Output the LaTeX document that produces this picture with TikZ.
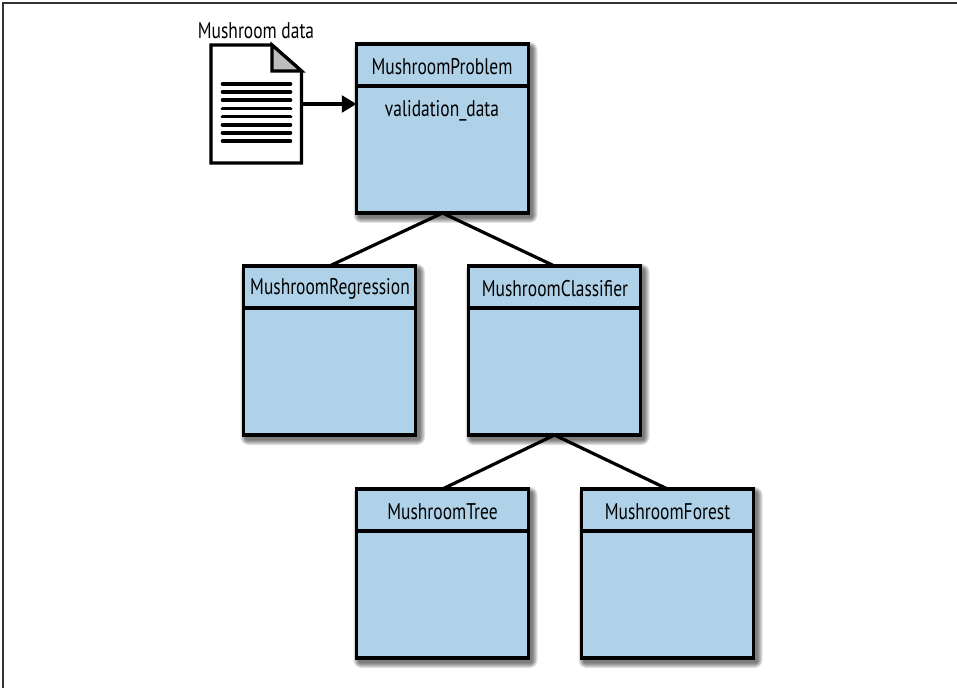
\documentclass[tikz,border=0pt]{standalone}
\usepackage{fontspec}
\setmainfont[FakeStretch=0.77]{PT Sans}
\usetikzlibrary{arrows.meta}
\definecolor{boxblue}{HTML}{B0D2E8}
\definecolor{foldgray}{HTML}{BEBEBE}
\tikzset{
  x=0.75pt,y=-0.75pt,
  classbox/.style={draw=black,line width=2.4pt,fill=boxblue,rectangle,minimum width=129pt,minimum height=126.75pt,inner sep=0pt,outer sep=0pt},
  title/.style={font=\fontsize{17pt}{19pt}\selectfont,text=black,inner sep=0pt},
  link/.style={draw=black,line width=2.4pt},
  docline/.style={draw=black,line width=2.7pt,line cap=round}
}
\newcommand{\softshadow}[4]{%
  \foreach \g in {6,5,4,3,2,1}{
    \fill[black,opacity=0.11,rounded corners=\g pt] (#1-\g+3,#2-\g+4) rectangle (#3+\g+3,#4+\g+4);
  }%
}
\begin{document}
\begin{tikzpicture}
\useasboundingbox (0,0) rectangle (957,688);
\fill[white] (0,0) rectangle (957,688);
\draw[line width=1.1pt,draw=black!80] (3,688) -- (3,3) -- (957,3);

% shadows
\softshadow{356.5}{44}{528.5}{213}
\softshadow{243.5}{266}{416}{435}
\softshadow{468.5}{266}{640.5}{435}
\softshadow{356.5}{489}{528.5}{658}
\softshadow{581.5}{489}{753.5}{658}

% class boxes
\node[classbox,anchor=north west] (problem) at (356.5,44) {};
\node[classbox,anchor=north west] (regression) at (243.5,266) {};
\node[classbox,anchor=north west] (classifier) at (468.5,266) {};
\node[classbox,anchor=north west] (tree) at (356.5,489) {};
\node[classbox,anchor=north west] (forest) at (581.5,489) {};

\foreach \b in {problem,regression,classifier,tree,forest}{
  \draw[link] ([yshift=-31.5pt]\b.north west) -- ([yshift=-31.5pt]\b.north east);
}

\node[title] (t1) at (442,67) {MushroomProblem};
\node[title] (t1b) at (442,111) {validation\_data};
\node[title] (t2) at (330,289) {MushroomRegression};
\node[title] (t3) at (555,289) {MushroomClassifier};
\node[title] (t4) at (442.5,512) {MushroomTree};
\node[title] (t5) at (667.5,512) {MushroomForest};

% connectors
\draw[link] (regression.north) -- (problem.south) -- (classifier.north);
\draw[link] (tree.north) -- (classifier.south) -- (forest.north);

% document
\draw[line width=2.4pt,fill=white,line join=miter] (211,45) -- (272,45) -- (301.5,71) -- (301.5,163) -- (211,163) -- cycle;
\draw[line width=2.4pt,fill=foldgray,line join=miter] (272,45) -- (301.5,71) -- (272,71) -- cycle;
\foreach \yy in {84,92,100.3,108.7,116.7,125,133,141.3}{
  \draw[docline] (222.5,\yy) -- (290.5,\yy);
}
\node[inner sep=0pt,outer sep=0pt,minimum width=0pt] (doc) at (301.5,104) {};
\draw[link,-{Triangle[length=11pt,width=12.5pt]}] (doc) -- (problem.west |- doc);
\node[title] (docl) at (256,31) {Mushroom data};
\end{tikzpicture}
\end{document}
